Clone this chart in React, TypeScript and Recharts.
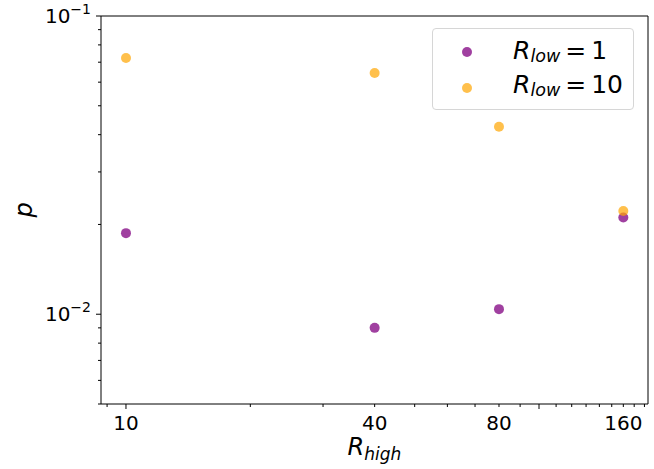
import { ScatterChart, Scatter, XAxis, YAxis, Legend, ReferenceArea } from "recharts";

const rHigh = [10, 40, 80, 160];
const pLow1 = [0.0187, 0.009, 0.0104, 0.0211];
const pLow10 = [0.0723, 0.0644, 0.0425, 0.0222];

const xTicks = [9, 10, 20, 30, 40, 50, 60, 70, 80, 90, 100, 110, 120, 130, 140, 150, 160, 170, 180];
const xMajor = [10, 100];
const xLabels = [10, 40, 80, 160];

const yTicks = [0.005, 0.006, 0.007, 0.008, 0.009, 0.01, 0.02, 0.03, 0.04, 0.05, 0.06, 0.07, 0.08, 0.09, 0.1];
const yMajor = [0.01, 0.1];
const yLabels: Record<string, string> = { "0.01": "\u22122", "0.1": "\u22121" };

const legendValues = ["1", "10"];

const xDomain = [8.7, 183.6];
const yDomain = [0.005, 0.1];

const PURPLE = "#800080";
const ORANGE = "#FFA500";
const FONT = "DejaVu Sans";

const low1 = rHigh.map((x, i) => ({ x, y: pLow1[i] }));
const low10 = rHigh.map((x, i) => ({ x, y: pLow10[i] }));

function XTick(props: any) {
  const { x, y, payload } = props;
  const v = payload.value;
  const len = xMajor.includes(v) ? 5 : 3;
  return (
    <g>
      <line x1={x} x2={x} y1={y} y2={y + len} stroke="#000" strokeWidth={1} />
      {xLabels.includes(v) && (
        <text x={x} y={y + 26} textAnchor="middle" fontSize={20} fontFamily={FONT} fill="#000">
          {v}
        </text>
      )}
    </g>
  );
}

function YTick(props: any) {
  const { x, y, payload } = props;
  const v = payload.value;
  const len = yMajor.includes(v) ? 5 : 3;
  const exp = yLabels[String(v)];
  return (
    <g>
      <line x1={x - len} x2={x} y1={y} y2={y} stroke="#000" strokeWidth={1} />
      {exp && (
        <text x={x - 10} y={y + 7} textAnchor="end" fontSize={20} fontFamily={FONT} fill="#000">
          10
          <tspan fontSize={14} dy={-9}>{exp}</tspan>
        </text>
      )}
    </g>
  );
}

function XLabel() {
  return (
    <text x={374.5} y={455} textAnchor="middle" fontSize={24} fontFamily={FONT} fill="#000" fontStyle="italic">
      R
      <tspan fontSize={17} dy={5}>high</tspan>
    </text>
  );
}

function YLabel() {
  return (
    <text
      x={0}
      y={0}
      transform="translate(32,210) rotate(-90)"
      textAnchor="middle"
      fontSize={24}
      fontFamily={FONT}
      fill="#000"
      fontStyle="italic"
    >
      p
    </text>
  );
}

const Dot = (color: string, alpha: number) => (props: any) =>
  <circle cx={props.cx} cy={props.cy} r={5} fill={color} fillOpacity={alpha} />;

function LegendBox() {
  const marks = [
    { color: PURPLE, alpha: 0.75 },
    { color: ORANGE, alpha: 0.7 },
  ];
  return (
    <div
      style={{
        width: 202,
        height: 82,
        boxSizing: "border-box",
        border: "1px solid #d6d6d6",
        borderRadius: 4,
        background: "rgba(255,255,255,0.8)",
      }}
    >
      <svg width={200} height={80} style={{ display: "block" }}>
        {marks.map((m, i) => (
          <g key={i}>
            <circle cx={34} cy={23 + i * 36} r={5} fill={m.color} fillOpacity={m.alpha} />
            <text x={80} y={30 + i * 34} fontSize={25} fontFamily={FONT} fill="#000">
              <tspan fontStyle="italic">R</tspan>
              <tspan fontStyle="italic" fontSize={17.5} dy={3}>low</tspan>
              <tspan dy={-3} dx={5}>=</tspan>
              <tspan dx={5}>{legendValues[i]}</tspan>
            </text>
          </g>
        ))}
      </svg>
    </div>
  );
}

export default function App() {
  return (
    <div style={{ position: "absolute", left: 0, top: 0, width: 654, height: 469, background: "#fff" }}>
      <ScatterChart width={654} height={469} margin={{ top: 16, right: 6, bottom: 0, left: 0 }}>
        <XAxis
          dataKey="x"
          type="number"
          scale="log"
          domain={xDomain}
          allowDataOverflow
          ticks={xTicks}
          interval={0}
          tickSize={0}
          tickMargin={0}
          tickLine={false}
          axisLine={false}
          tick={<XTick />}
          height={65}
          label={<XLabel />}
        />
        <YAxis
          dataKey="y"
          type="number"
          scale="log"
          domain={yDomain}
          allowDataOverflow
          ticks={yTicks}
          interval={0}
          tickSize={0}
          tickMargin={0}
          tickLine={false}
          axisLine={false}
          tick={<YTick />}
          width={101}
          label={<YLabel />}
        />
        <ReferenceArea
          x1={xDomain[0]}
          x2={xDomain[1]}
          y1={yDomain[0]}
          y2={yDomain[1]}
          fill="none"
          fillOpacity={0}
          stroke="#000"
          strokeWidth={1}
          ifOverflow="visible"
        />
        <Scatter name="low1" data={low1} shape={Dot(PURPLE, 0.75)} isAnimationActive={false} />
        <Scatter name="low10" data={low10} shape={Dot(ORANGE, 0.7)} isAnimationActive={false} />
        <Legend
          layout="horizontal"
          verticalAlign="middle"
          align="center"
          wrapperStyle={{ left: 432, top: 28, width: 202, height: 82 }}
          content={() => <LegendBox />}
        />
      </ScatterChart>
    </div>
  );
}
